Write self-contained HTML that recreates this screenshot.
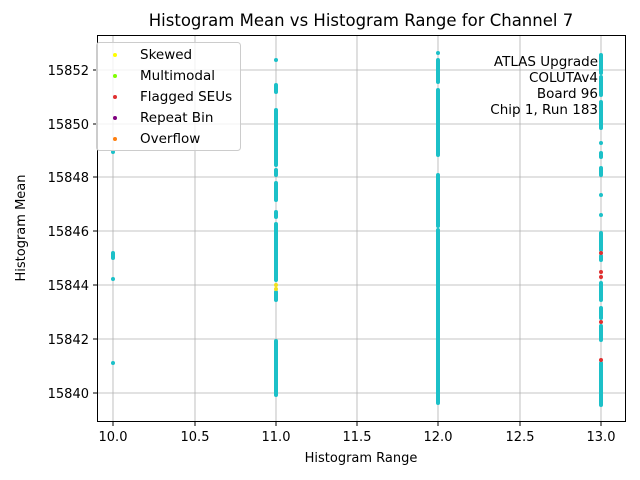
<!DOCTYPE html>
<html><head><meta charset="utf-8"><style>body{margin:0;background:#fff}svg{display:block;font-family:"DejaVu Sans","Liberation Sans",sans-serif}</style></head><body>
<svg width="640" height="480" viewBox="0 0 640 480">
<rect width="640" height="480" fill="#fff"/>
<g stroke="#b0b0b0" stroke-width="0.8">
<line x1="113" y1="35" x2="113" y2="422"/><line x1="195" y1="35" x2="195" y2="422"/><line x1="276" y1="35" x2="276" y2="422"/><line x1="357" y1="35" x2="357" y2="422"/><line x1="438" y1="35" x2="438" y2="422"/><line x1="520" y1="35" x2="520" y2="422"/><line x1="601" y1="35" x2="601" y2="422"/>
<line x1="97" y1="393" x2="626" y2="393"/><line x1="97" y1="339" x2="626" y2="339"/><line x1="97" y1="285" x2="626" y2="285"/><line x1="97" y1="231" x2="626" y2="231"/><line x1="97" y1="177" x2="626" y2="177"/><line x1="97" y1="124" x2="626" y2="124"/><line x1="97" y1="70" x2="626" y2="70"/>
</g>
<g stroke="#1cc0c8" stroke-width="4" stroke-linecap="round" fill="none">
<line x1="113" y1="152" x2="113" y2="152"/><line x1="113" y1="253" x2="113" y2="258"/><line x1="113" y1="279" x2="113" y2="279"/><line x1="113" y1="363" x2="113" y2="363"/>
<line x1="276" y1="341" x2="276" y2="395"/><line x1="276" y1="292" x2="276" y2="300"/><line x1="276" y1="224" x2="276" y2="280"/><line x1="276" y1="212" x2="276" y2="217"/><line x1="276" y1="183" x2="276" y2="200"/><line x1="276" y1="170" x2="276" y2="175"/><line x1="276" y1="110" x2="276" y2="165"/><line x1="276" y1="85" x2="276" y2="92"/><line x1="276" y1="60" x2="276" y2="60"/>
<line x1="438" y1="230" x2="438" y2="403"/><line x1="438" y1="175" x2="438" y2="226"/><line x1="438" y1="90" x2="438" y2="155"/><line x1="438" y1="60" x2="438" y2="82"/><line x1="438" y1="53" x2="438" y2="53"/>
<line x1="601" y1="55" x2="601" y2="73"/><line x1="601" y1="77" x2="601" y2="95"/><line x1="601" y1="102" x2="601" y2="128"/><line x1="601" y1="143" x2="601" y2="143"/><line x1="601" y1="153" x2="601" y2="157"/><line x1="601" y1="168" x2="601" y2="175"/><line x1="601" y1="195" x2="601" y2="195"/><line x1="601" y1="215" x2="601" y2="215"/><line x1="601" y1="233" x2="601" y2="250"/><line x1="601" y1="256" x2="601" y2="260"/><line x1="601" y1="283" x2="601" y2="300"/><line x1="601" y1="308" x2="601" y2="318"/><line x1="601" y1="326" x2="601" y2="340"/><line x1="601" y1="363" x2="601" y2="405"/>
</g>
<g fill="#e03030"><circle cx="601" cy="253" r="2"/><circle cx="601" cy="272" r="2"/><circle cx="601" cy="277" r="2"/><circle cx="601" cy="322" r="2"/><circle cx="601" cy="360" r="2"/></g>
<g fill="#f0e020"><circle cx="276" cy="285" r="2"/><circle cx="276" cy="289" r="2"/></g>
<rect x="97.5" y="35.5" width="528" height="386" fill="none" stroke="#000" stroke-width="1"/>
<g stroke="#000"><line x1="113" y1="422" x2="113" y2="426"/><line x1="195" y1="422" x2="195" y2="426"/><line x1="276" y1="422" x2="276" y2="426"/><line x1="357" y1="422" x2="357" y2="426"/><line x1="438" y1="422" x2="438" y2="426"/><line x1="520" y1="422" x2="520" y2="426"/><line x1="601" y1="422" x2="601" y2="426"/>
<line x1="93" y1="393" x2="97" y2="393"/><line x1="93" y1="339" x2="97" y2="339"/><line x1="93" y1="285" x2="97" y2="285"/><line x1="93" y1="231" x2="97" y2="231"/><line x1="93" y1="177" x2="97" y2="177"/><line x1="93" y1="124" x2="97" y2="124"/><line x1="93" y1="70" x2="97" y2="70"/></g>
<g font-size="13" fill="#000" text-anchor="middle"><text x="113" y="441">10.0</text><text x="195" y="441">10.5</text><text x="276" y="441">11.0</text><text x="357" y="441">11.5</text><text x="438" y="441">12.0</text><text x="520" y="441">12.5</text><text x="601" y="441">13.0</text></g>
<g font-size="13" fill="#000" text-anchor="end"><text x="89" y="398">15840</text><text x="89" y="344">15842</text><text x="89" y="290">15844</text><text x="89" y="236">15846</text><text x="89" y="182">15848</text><text x="89" y="129">15850</text><text x="89" y="75">15852</text></g>
<text x="361" y="462" font-size="13" text-anchor="middle">Histogram Range</text>
<text transform="translate(25 228) rotate(-90)" font-size="13" text-anchor="middle">Histogram Mean</text>
<text x="361" y="26" font-size="16.5" text-anchor="middle">Histogram Mean vs Histogram Range for Channel 7</text>
<g font-size="13.5" text-anchor="end"><text x="598" y="66">ATLAS Upgrade</text><text x="598" y="82">COLUTAv4</text><text x="598" y="98">Board 96</text><text x="598" y="114">Chip 1, Run 183</text></g>
<rect x="96.5" y="42.5" width="144" height="108" rx="3" fill="#fff" fill-opacity="0.8" stroke="#ccc"/>
<g font-size="13.5"><circle cx="115" cy="55" r="2" fill="#ffff00"/><text x="140" y="59">Skewed</text>
<circle cx="115" cy="76" r="2" fill="#7fff00"/><text x="140" y="80">Multimodal</text>
<circle cx="115" cy="97" r="2" fill="#e03030"/><text x="140" y="101">Flagged SEUs</text>
<circle cx="115" cy="118" r="2" fill="#800080"/><text x="140" y="122">Repeat Bin</text>
<circle cx="115" cy="139" r="2" fill="#ff7f0e"/><text x="140" y="143">Overflow</text></g>
</svg>
</body></html>
